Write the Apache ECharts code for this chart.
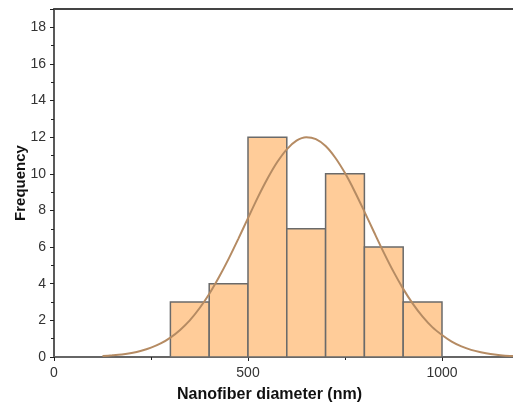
<!DOCTYPE html>
<html>
<head>
<meta charset="utf-8">
<script src="https://cdn.jsdelivr.net/npm/echarts@6/dist/echarts.min.js"></script>
<style>
  html, body { margin: 0; padding: 0; background: #ffffff; }
  #main { width: 513px; height: 403px; }
</style>
</head>
<body>
<div id="main"></div>
<script>
// histogram bins: [start, end, count]
const binStarts = [300, 400, 500, 600, 700, 800, 900]
const binEnds = [400, 500, 600, 700, 800, 900, 1000]
const binCounts = [3, 4, 12, 7, 10, 6, 3]

// normal fit curve
const curveX = [125, 150, 175, 200, 225, 250, 275, 300, 325, 350, 375, 400, 425, 450, 475, 500, 525, 550, 575, 600, 625, 650, 675, 700, 725, 750, 775, 800, 825, 850, 875, 900, 925, 950, 975, 1000, 1025, 1050, 1075, 1100, 1125, 1150, 1175, 1200]
const curveY = [0.05, 0.09, 0.14, 0.22, 0.34, 0.51, 0.74, 1.06, 1.48, 2.0, 2.66, 3.44, 4.35, 5.36, 6.45, 7.58, 8.7, 9.73, 10.63, 11.34, 11.81, 12.0, 11.9, 11.52, 10.88, 10.04, 9.04, 7.94, 6.81, 5.7, 4.66, 3.72, 2.9, 2.2, 1.63, 1.2, 0.84, 0.58, 0.39, 0.26, 0.16, 0.1, 0.06, 0.04]

const yTicks = [0, 2, 4, 6, 8, 10, 12, 14, 16, 18]
const xTicks = [0, 500, 1000]

const chart = echarts.init(document.getElementById('main'))

const bins = binStarts.map((s, i) => [s, binEnds[i], binCounts[i]])
const curve = curveX.map((x, i) => [x, curveY[i]])

const labelFont = { fontFamily: 'Liberation Sans', fontSize: 14, color: '#333333' }

const option = {
  animation: false,
  grid: { left: 54, top: 9, right: 0, bottom: 46, outerBoundsMode: 'none', containLabel: false },
  xAxis: [
    {
      type: 'value',
      min: 0,
      max: 1183,
      interval: 500,
      name: 'Nanofiber diameter (nm)',
      nameLocation: 'middle',
      nameGap: 30,
      nameMoveOverlap: false,
      // title sits a bit left of the axis centre in the original
      nameTextStyle: { fontFamily: 'Liberation Sans', fontWeight: 'bold', fontSize: 16, color: '#111111', padding: [0, 28, 0, 0] },
      axisLine: { lineStyle: { color: '#666666', width: 2 } },
      axisTick: { show: true, inside: false, length: 4, lineStyle: { color: '#222222' } },
      minorTick: { show: true, splitNumber: 2, length: 3, lineStyle: { color: '#222222' } },
      splitLine: { show: false },
      axisLabel: Object.assign({
        margin: 9,
        showMaxLabel: false,
        formatter: v => xTicks.includes(v) ? String(v) : ''
      }, labelFont)
    },
    {
      type: 'value',
      position: 'top',
      min: 0,
      max: 1183,
      axisLine: { show: true, lineStyle: { color: '#444444', width: 2 } },
      axisTick: { show: false },
      axisLabel: { show: false },
      splitLine: { show: false }
    }
  ],
  yAxis: {
    type: 'value',
    min: 0,
    max: 19,
    interval: 2,
    name: 'Frequency',
    nameLocation: 'middle',
    nameGap: 26,
    nameMoveOverlap: false,
    nameTextStyle: { fontFamily: 'Liberation Sans', fontWeight: 'bold', fontSize: 15, color: '#111111' },
    axisLine: { show: true, lineStyle: { color: '#222222', width: 1.5 } },
    axisTick: { show: true, inside: false, length: 4, lineStyle: { color: '#222222' } },
    minorTick: { show: true, splitNumber: 2, length: 3, lineStyle: { color: '#222222' } },
    splitLine: { show: false },
    axisLabel: Object.assign({
      margin: 8,
      showMaxLabel: false,
      formatter: v => yTicks.includes(v) ? String(v) : ''
    }, labelFont)
  },
  series: [
    {
      type: 'custom',
      data: bins,
      renderItem: function (params, api) {
        const p0 = api.coord([api.value(0), api.value(2)])
        const p1 = api.coord([api.value(1), 0])
        return {
          type: 'rect',
          shape: { x: p0[0], y: p0[1], width: p1[0] - p0[0], height: p1[1] - p0[1] },
          style: { fill: '#ffcc99', stroke: '#6a6a6a', lineWidth: 1.5 }
        }
      },
      z: 2
    },
    {
      type: 'line',
      data: curve,
      smooth: 0.3,
      showSymbol: false,
      clip: true,
      lineStyle: { color: '#b58b63', width: 2 },
      z: 3
    }
  ]
}
chart.setOption(option)
</script>
</body>
</html>
